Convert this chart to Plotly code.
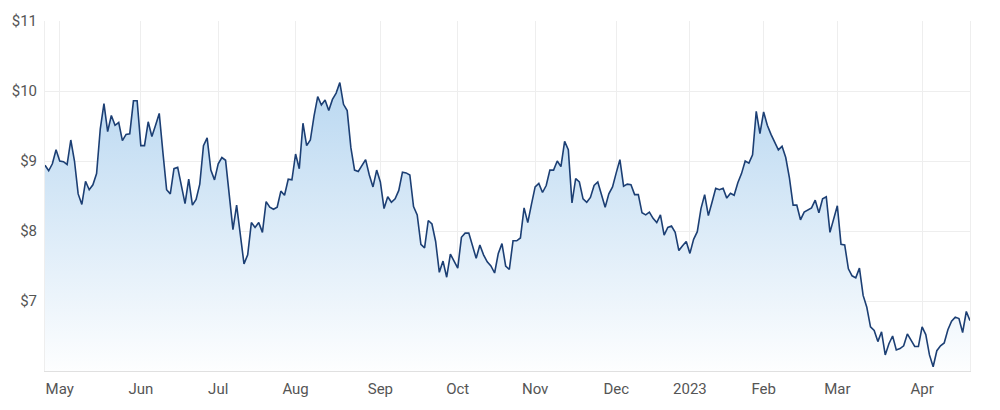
import pandas as pd
import plotly.graph_objects as go

# ASX non-trading weekdays in the window
holidays = ["2022-06-13", "2022-09-22", "2022-12-26", "2022-12-27",
            "2023-01-02", "2023-01-26", "2023-04-07", "2023-04-10"]
start_date = "2022-04-26"
end_date = "2023-04-24"

prices = [
    8.94, 8.86, 8.96, 9.16, 9.00, 8.99, 8.95, 9.30, 9.00, 8.53,
    8.38, 8.71, 8.59, 8.66, 8.82, 9.46, 9.82, 9.42, 9.65, 9.51,
    9.55, 9.29, 9.38, 9.39, 9.86, 9.86, 9.22, 9.22, 9.56, 9.35,
    9.51, 9.68, 9.12, 8.59, 8.53, 8.89, 8.91, 8.65, 8.39, 8.74,
    8.37, 8.45, 8.67,
    9.22, 9.33, 8.87, 8.73, 8.96, 9.05, 9.01, 8.55, 8.02, 8.37,
    7.97, 7.53, 7.66, 8.12, 8.05, 8.12, 7.98, 8.42, 8.34, 8.31,
    8.34, 8.57, 8.51, 8.74, 8.73, 9.10, 8.89, 9.54, 9.22, 9.30,
    9.64, 9.92, 9.80, 9.87, 9.72, 9.88, 9.97, 10.12, 9.81, 9.72,
    9.19, 8.87,
    8.85, 8.94, 9.02, 8.80, 8.63, 8.87, 8.70, 8.32, 8.49, 8.41,
    8.46, 8.58, 8.84, 8.83, 8.80, 8.35, 8.23, 7.81, 7.76, 8.15,
    8.10, 7.85, 7.41, 7.57, 7.34, 7.67, 7.56, 7.47, 7.91, 7.97,
    7.97, 7.77, 7.61, 7.80, 7.66, 7.56, 7.50, 7.40, 7.68, 7.82,
    7.50, 7.45,
    7.86, 7.86, 7.90, 8.33, 8.12, 8.38, 8.63, 8.68, 8.55, 8.65,
    8.87, 8.87, 9.00, 8.92, 9.28, 9.16, 8.40, 8.75, 8.70, 8.46,
    8.41, 8.48, 8.65, 8.70, 8.51, 8.34, 8.53, 8.63, 8.83, 9.02,
    8.64, 8.67, 8.66, 8.52, 8.52, 8.26, 8.23, 8.27, 8.18, 8.12,
    8.23, 7.94,
    8.05, 8.07, 7.98, 7.72, 7.79, 7.85, 7.68, 7.88, 7.99, 8.32,
    8.52, 8.22, 8.41, 8.61, 8.59, 8.61, 8.47, 8.54, 8.51, 8.69,
    8.82, 9.00, 8.97, 9.09, 9.71, 9.39, 9.70, 9.51, 9.38, 9.28,
    9.16, 9.21, 9.05, 8.76, 8.37, 8.37, 8.16, 8.27, 8.30, 8.33,
    8.44, 8.26,
    8.46, 8.49, 7.98, 8.18, 8.36, 7.81, 7.80, 7.46, 7.36, 7.33,
    7.47, 7.08, 6.91, 6.63, 6.58, 6.42, 6.56, 6.23, 6.39, 6.50,
    6.30, 6.32, 6.36, 6.53, 6.43, 6.35, 6.35, 6.63, 6.52, 6.23,
    6.06, 6.29, 6.36, 6.40, 6.59, 6.71, 6.77, 6.75, 6.55, 6.85,
    6.72,
]

tick_dates = ["2022-05-02", "2022-06-01", "2022-07-01", "2022-08-01",
              "2022-09-01", "2022-10-03", "2022-11-01", "2022-12-01",
              "2023-01-03", "2023-02-01", "2023-03-01", "2023-04-03"]
tick_labels = ["May", "Jun", "Jul", "Aug", "Sep", "Oct", "Nov", "Dec",
               "2023", "Feb", "Mar", "Apr"]
y_ticks = [7, 8, 9, 10, 11]
y_labels = ["$7", "$8", "$9", "$10", "$11"]

dates = pd.bdate_range(start_date, end_date, freq="C", holidays=holidays)
n = min(len(dates), len(prices))
dates = dates[:n]
prices = prices[:n]

fig = go.Figure()
fig.add_trace(go.Scatter(
    x=dates, y=prices, mode="lines",
    line=dict(color="#1c3f74", width=1.6),
    fill="tozeroy",
    fillgradient=dict(type="vertical", start=6, stop=10.12,
                      colorscale=[[0, "rgba(255,255,255,1)"],
                                  [1, "rgb(186,216,241)"]]),
    hoverinfo="skip",
))

fig.update_layout(
    width=1000, height=410,
    margin=dict(l=44, r=30, t=16, b=36),
    paper_bgcolor="white", plot_bgcolor="white",
    showlegend=False,
    font=dict(family="Roboto, Arial, sans-serif", size=15, color="#555555"),
)
fig.update_xaxes(
    range=[dates[0], dates[-1]],
    rangebreaks=[dict(bounds=["sat", "mon"]), dict(values=holidays)],
    tickvals=tick_dates, ticktext=tick_labels,
    showgrid=True, gridcolor="#eeeeee", gridwidth=1,
    showline=True, linecolor="#e0e0e0", linewidth=1,
    ticks="", ticklabelstandoff=4,
    tickfont=dict(size=15, color="#555555"),
)
fig.update_yaxes(
    range=[6, 11],
    tickvals=y_ticks, ticktext=y_labels,
    showgrid=True, gridcolor="#eeeeee", gridwidth=1,
    showline=True, linecolor="#eeeeee", linewidth=1, mirror=True,
    zeroline=False, ticks="", ticklabelstandoff=4,
    tickfont=dict(size=15, color="#555555"),
)

fig.write_html("out.html")
